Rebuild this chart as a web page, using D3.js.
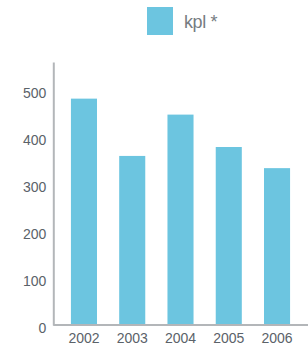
<!DOCTYPE html>
<html>
<head>
<meta charset="utf-8">
<script src="https://cdn.jsdelivr.net/npm/d3@7"></script>
<style>
  body { margin: 0; background: #fff; }
  .tick text { font-family: "Liberation Sans", Arial, sans-serif; font-size: 14px; fill: #5b6269; }
  .legend-text { font-family: "Liberation Sans", Arial, sans-serif; font-size: 18px; fill: #767c82; letter-spacing: -0.4px; }
</style>
</head>
<body>
<svg id="chart" width="308" height="346"></svg>
<script>
const years = ['2002', '2003', '2004', '2005', '2006'];
const kpl = [482, 360, 448, 379, 334];
const yTicks = [0, 100, 200, 300, 400, 500];
const seriesName = 'kpl *';

const svg = d3.select('#chart');
const barColor = '#6cc5e0';
const axisColor = '#b3b6b9';

const x = d3.scaleBand()
  .domain(years)
  .range([55, 306])
  .paddingInner(0.46)
  .paddingOuter(0.33);

const y = d3.scaleLinear()
  .domain([0, 560])
  .range([325, 62]);

// bars
svg.append('g')
  .selectAll('rect')
  .data(years)
  .enter()
  .append('rect')
  .attr('x', (d) => x(d))
  .attr('y', (d, i) => y(kpl[i]))
  .attr('width', x.bandwidth())
  .attr('height', (d, i) => y(0) - y(kpl[i]))
  .attr('fill', barColor);

// y axis
const yAxis = svg.append('g')
  .attr('transform', 'translate(53.3,0)')
  .call(d3.axisLeft(y).tickValues(yTicks).tickSize(0).tickPadding(7));
yAxis.select('.domain').attr('stroke', axisColor).attr('stroke-width', 2);
yAxis.selectAll('.tick text').attr('dy', '0.55em');

// x axis
const xAxis = svg.append('g')
  .attr('transform', 'translate(0,' + y(0) + ')')
  .call(d3.axisBottom(x).tickSize(0).tickPadding(8));
xAxis.select('.domain')
  .attr('d', 'M' + 53.3 + ',0H308')
  .attr('stroke', axisColor)
  .attr('stroke-width', 2);

// legend
const legend = svg.append('g').attr('transform', 'translate(147,7)');
legend.append('rect')
  .attr('width', 26)
  .attr('height', 28)
  .attr('fill', barColor);
legend.append('text')
  .attr('class', 'legend-text')
  .attr('x', 37)
  .attr('y', 21)
  .text(seriesName);
</script>
</body>
</html>
